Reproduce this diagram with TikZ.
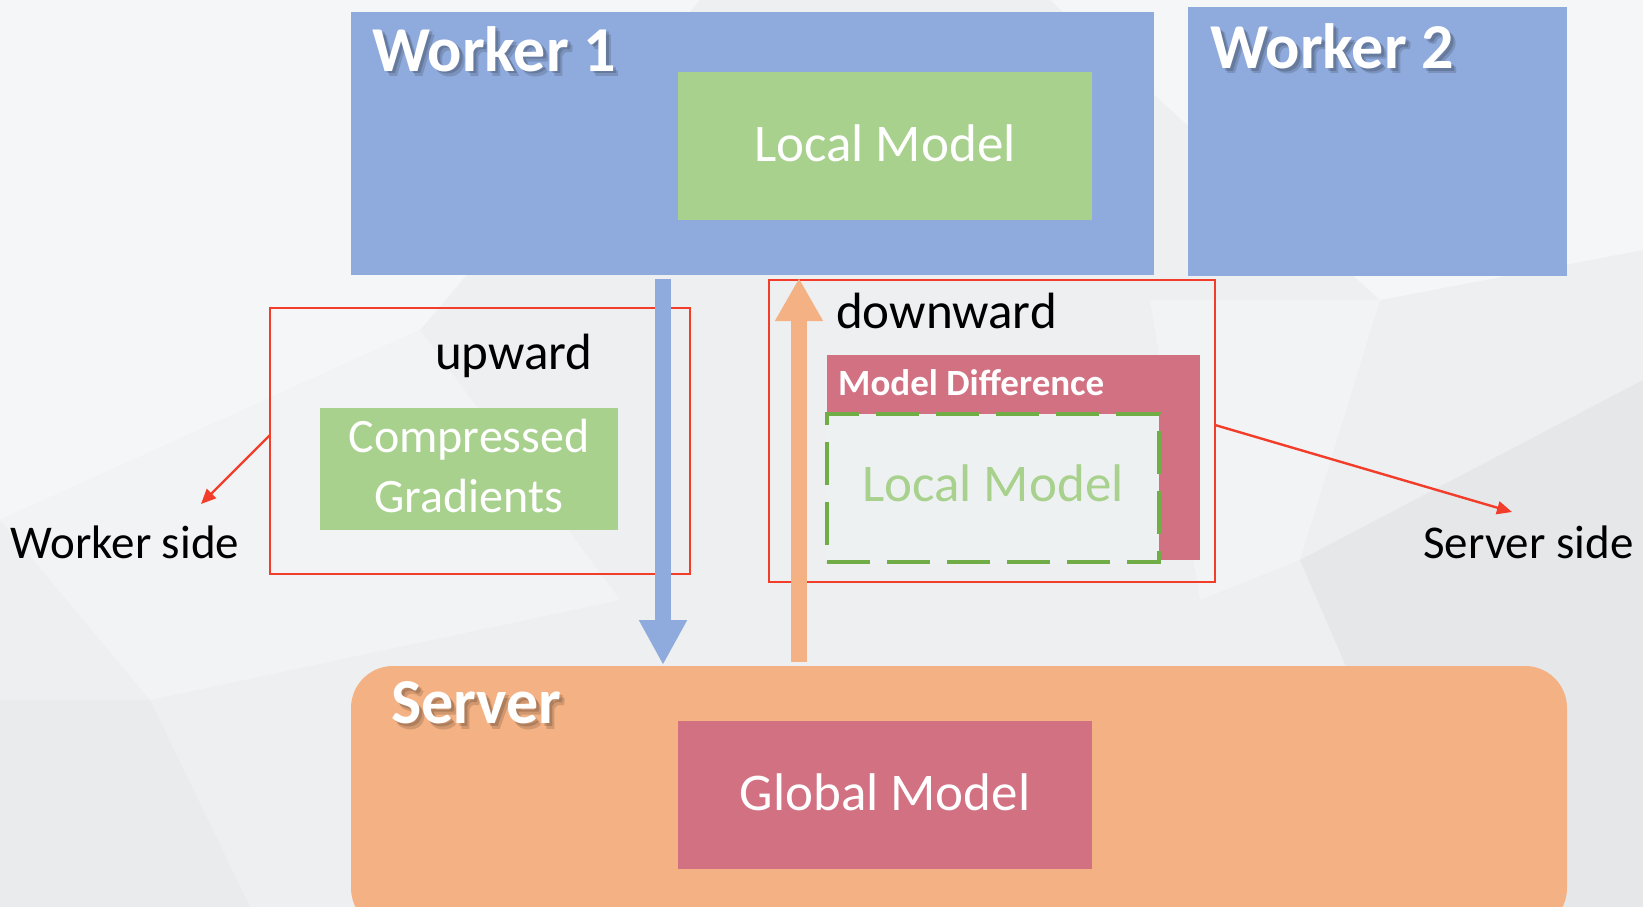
\documentclass[tikz,border=0pt]{standalone}
\usepackage{fontspec}
\setmainfont{Carlito}
\usetikzlibrary{arrows.meta,calc}

\definecolor{bgbase}{HTML}{EEEFF0}
\definecolor{bglight}{HTML}{F5F6F7}
\definecolor{bgdark}{HTML}{E6E7E9}
\definecolor{wblue}{HTML}{8FAADC}
\definecolor{lgreen}{HTML}{A9D18E}
\definecolor{dgreen}{HTML}{70AD47}
\definecolor{sorange}{HTML}{F4B183}
\definecolor{mpink}{HTML}{D27182}
\definecolor{rline}{HTML}{F23D2A}
\definecolor{ghost}{HTML}{EEF1F1}

\begin{document}
\begin{tikzpicture}[x=1pt,y=-1pt,
  block/.style={draw=none,inner sep=0pt,outer sep=0pt,minimum width=#1},
  framebox/.style={draw=rline,line width=2.4pt,inner sep=0pt,outer sep=0pt},
  title/.style={text=white,font=\bfseries\fontsize{64}{70}\selectfont,anchor=base west,inner sep=0pt},
  titleshadow/.style={text=black,opacity=#1,font=\bfseries\fontsize{64}{70}\selectfont,anchor=base west,inner sep=0pt},
  inlabel/.style={text=white,font=\fontsize{53}{60}\selectfont,inner sep=0pt},
  plain/.style={text=black,font=\fontsize{51}{58}\selectfont,anchor=base west,inner sep=0pt},
  side/.style={text=black,font=\fontsize{47}{54}\selectfont,anchor=base west,inner sep=0pt},
  pointer/.style={draw=rline,line width=2.4pt,-{Triangle[length=15pt,width=13pt]}},
  flowdown/.style={draw=wblue,line width=16pt,-{Triangle[length=45pt,width=45pt]}},
  flowup/.style={draw=sorange,line width=16pt,-{Triangle[length=43pt,width=45pt]}}]

\useasboundingbox (0,0) rectangle (1643,907);

% faceted light background
\fill[bgbase] (0,0) rectangle (1643,907);
\fill[bglight] (0,0) -- (700,0) -- (420,330) -- (0,520) -- cycle;
\fill[bglight] (1050,0) -- (1643,0) -- (1643,250) -- (1380,300) -- cycle;
\fill[bglight!60!bgbase] (0,520) -- (420,330) -- (620,600) -- (150,700) -- cycle;
\fill[bgdark] (1300,560) -- (1643,380) -- (1643,907) -- (1450,907) -- cycle;
\fill[bgdark!50!bgbase] (0,700) -- (150,700) -- (250,907) -- (0,907) -- cycle;
\fill[bglight!50!bgbase] (1150,300) -- (1380,300) -- (1300,560) -- (1200,600) -- cycle;

% worker machines
\node[block=803pt,minimum height=262pt,fill=wblue] (worker1) at (752.5,143.5) {};
\node[block=379pt,minimum height=269pt,fill=wblue] (worker2) at (1377.5,141.5) {};
\node[block=414pt,minimum height=148pt,fill=lgreen] (localmodel) at (885,146) {};
\node[inlabel] (localtext) at ([yshift=3pt]localmodel.center) {Local Model};

\node[titleshadow=0.14] (w1shadowb) at (377,77) {Worker 1};
\node[titleshadow=0.16] (w1shadowa) at (375,74) {Worker 1};
\node[title] (w1title) at (372,71) {Worker 1};
\node[titleshadow=0.14] (w2shadowb) at (1215,74) {Worker 2};
\node[titleshadow=0.16] (w2shadowa) at (1213,71) {Worker 2};
\node[title] (w2title) at (1210,68) {Worker 2};

% server
\node[block=1216pt,minimum height=264pt,fill=sorange,rounded corners=42pt] (server) at (959,798) {};
\node[block=414pt,minimum height=148pt,fill=mpink] (globalmodel) at (885,795) {};
\node[inlabel] (globaltext) at ([yshift=3pt]globalmodel.center) {Global Model};
\node[titleshadow=0.14] (svshadowb) at (396,729) {Server};
\node[titleshadow=0.16] (svshadowa) at (394,726) {Server};
\node[title] (svtitle) at (391,723) {Server};

% upward message: compressed gradients
\node[framebox,minimum width=420pt,minimum height=266pt] (upbox) at (480,441) {};
\node[block=298pt,minimum height=122pt,fill=lgreen] (gradbox) at (469,469) {};
\node[inlabel,font=\fontsize{48}{60}\selectfont,align=center] (gradtext) at (469,466) {Compressed\\Gradients};
\node[plain] (uplabel) at (435,369) {upward};

% downward message: model difference
\node[framebox,minimum width=446pt,minimum height=302pt] (downbox) at (992,431) {};
\node[block=373pt,minimum height=205pt,fill=mpink] (diffbox) at (1013.5,457.5) {};
\node[text=white,font=\bfseries\fontsize{37}{42}\selectfont,anchor=base west,inner sep=0pt] (difftext) at (838,395) {Model Difference};
\node[block=332pt,minimum height=148pt,fill=ghost,draw=dgreen,line width=4.6pt,
      dash pattern=on 43pt off 17pt] (ghostbox) at (993,488) {};
\node[inlabel,text=lgreen] (ghosttext) at ([yshift=5pt]ghostbox.center) {Local Model};
\node[plain] (downlabel) at (836,328) {downward};

% transfer arrows between worker and server
\coordinate (ux) at (663,0);
\coordinate (dx) at (799,0);
\draw[flowdown] ([yshift=-4pt]worker1.south -| ux) -- ([yshift=1pt]server.north -| ux);
\draw[flowup] ([yshift=4pt]server.north -| dx) -- ([yshift=-3.5pt]worker1.south -| dx);

% side labels
\node[side] (workerside) at (10.5,558) {Worker side};
\node[side] (serverside) at (1423,558) {Server side};
\coordinate (wsend) at (201,504);
\coordinate (ssend) at (1512,512);
\draw[pointer] ([yshift=6pt]upbox.west) -- (wsend);
\draw[pointer] ([yshift=6pt]downbox.east) -- (ssend);

\end{tikzpicture}
\end{document}
